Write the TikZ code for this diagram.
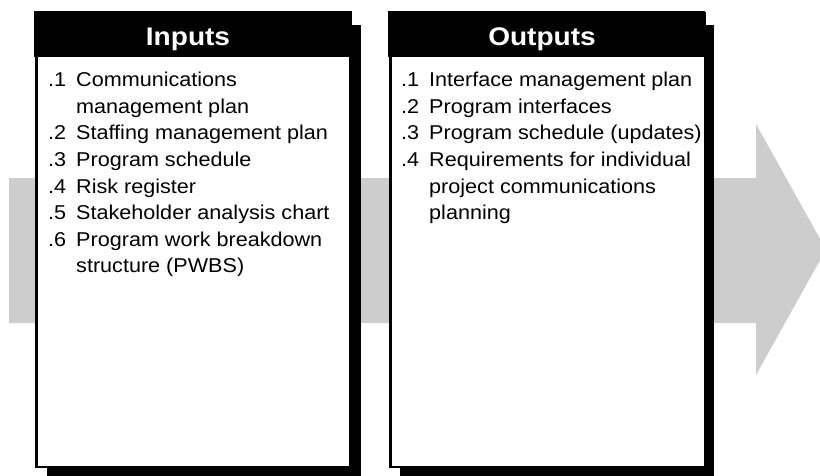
\documentclass[tikz,border=0pt]{standalone}
\usepackage{fontspec}
\setmainfont{Liberation Sans}[FakeStretch=1.08]
\newfontfamily\headfont{Liberation Sans}[FakeStretch=1.1]
\definecolor{flowgray}{RGB}{205,205,205}
\begin{document}
\begin{tikzpicture}[x=1pt,y=-1pt,
  shadowbar/.style={fill=black, draw=none, inner sep=0pt, anchor=north west},
  headbar/.style={fill=black, draw=none, inner sep=0pt, anchor=north west},
  panelbody/.style={fill=white, draw=black, line width=2.5pt, inner sep=0pt, anchor=north west},
  headtext/.style={anchor=base, inner sep=0pt, text=white, font=\headfont\bfseries\fontsize{25.5}{30}\selectfont},
  itemtext/.style={anchor=base west, inner sep=0pt, font=\fontsize{20}{24}\selectfont},
]
\useasboundingbox (0,0) rectangle (820,475);

% broad grey process arrow behind the panels
\fill[flowgray] (9,178) -- (756,178) -- (756,124) -- (826,249.5)
  -- (756,375) -- (756,323) -- (9,323) -- cycle;

% ---------- Inputs panel ----------
\node[shadowbar, minimum width=314pt, minimum height=451pt] (inshadow) at (47,25) {};
\node[panelbody, minimum width=314pt, minimum height=453.75pt] (inbody) at (35.25,12) {};
\node[headbar, minimum width=318pt, minimum height=46pt] (inhead) at (34,11) {};
\node[headtext] (intitle) at (188,45) {Inputs};

\node[itemtext] (inn1) at (48,86.7)  {.1};
\node[itemtext] (int1) at (76,86.7)  {Communications};
\node[itemtext] (int1b) at (76,113.3) {management plan};
\node[itemtext] (inn2) at (48,139.9) {.2};
\node[itemtext] (int2) at (76,139.9) {Staffing management plan};
\node[itemtext] (inn3) at (48,166.5) {.3};
\node[itemtext] (int3) at (76,166.5) {Program schedule};
\node[itemtext] (inn4) at (48,193.1) {.4};
\node[itemtext] (int4) at (76,193.1) {Risk register};
\node[itemtext] (inn5) at (48,219.7) {.5};
\node[itemtext] (int5) at (76,219.7) {Stakeholder analysis chart};
\node[itemtext] (inn6) at (48,246.3) {.6};
\node[itemtext] (int6) at (76,246.3) {Program work breakdown};
\node[itemtext] (int6b) at (76,272.9) {structure (PWBS)};

% ---------- Outputs panel ----------
\node[shadowbar, minimum width=314pt, minimum height=451pt] (outshadow) at (400,25) {};
\node[panelbody, minimum width=314.25pt, minimum height=453.75pt] (outbody) at (389.25,12) {};
\node[headbar, minimum width=317pt, minimum height=46pt] (outhead) at (388,11) {};
\node[headtext] (outtitle) at (542,45) {Outputs};

\node[itemtext] (outn1) at (401,86.7)  {.1};
\node[itemtext] (outt1) at (429,86.7)  {Interface management plan};
\node[itemtext] (outn2) at (401,113.3) {.2};
\node[itemtext] (outt2) at (429,113.3) {Program interfaces};
\node[itemtext] (outn3) at (401,139.9) {.3};
\node[itemtext] (outt3) at (429,139.9) {Program schedule (updates)};
\node[itemtext] (outn4) at (401,166.5) {.4};
\node[itemtext] (outt4) at (429,166.5) {Requirements for individual};
\node[itemtext] (outt4b) at (429,193.1) {project communications};
\node[itemtext] (outt4c) at (429,219.7) {planning};
\end{tikzpicture}
\end{document}
